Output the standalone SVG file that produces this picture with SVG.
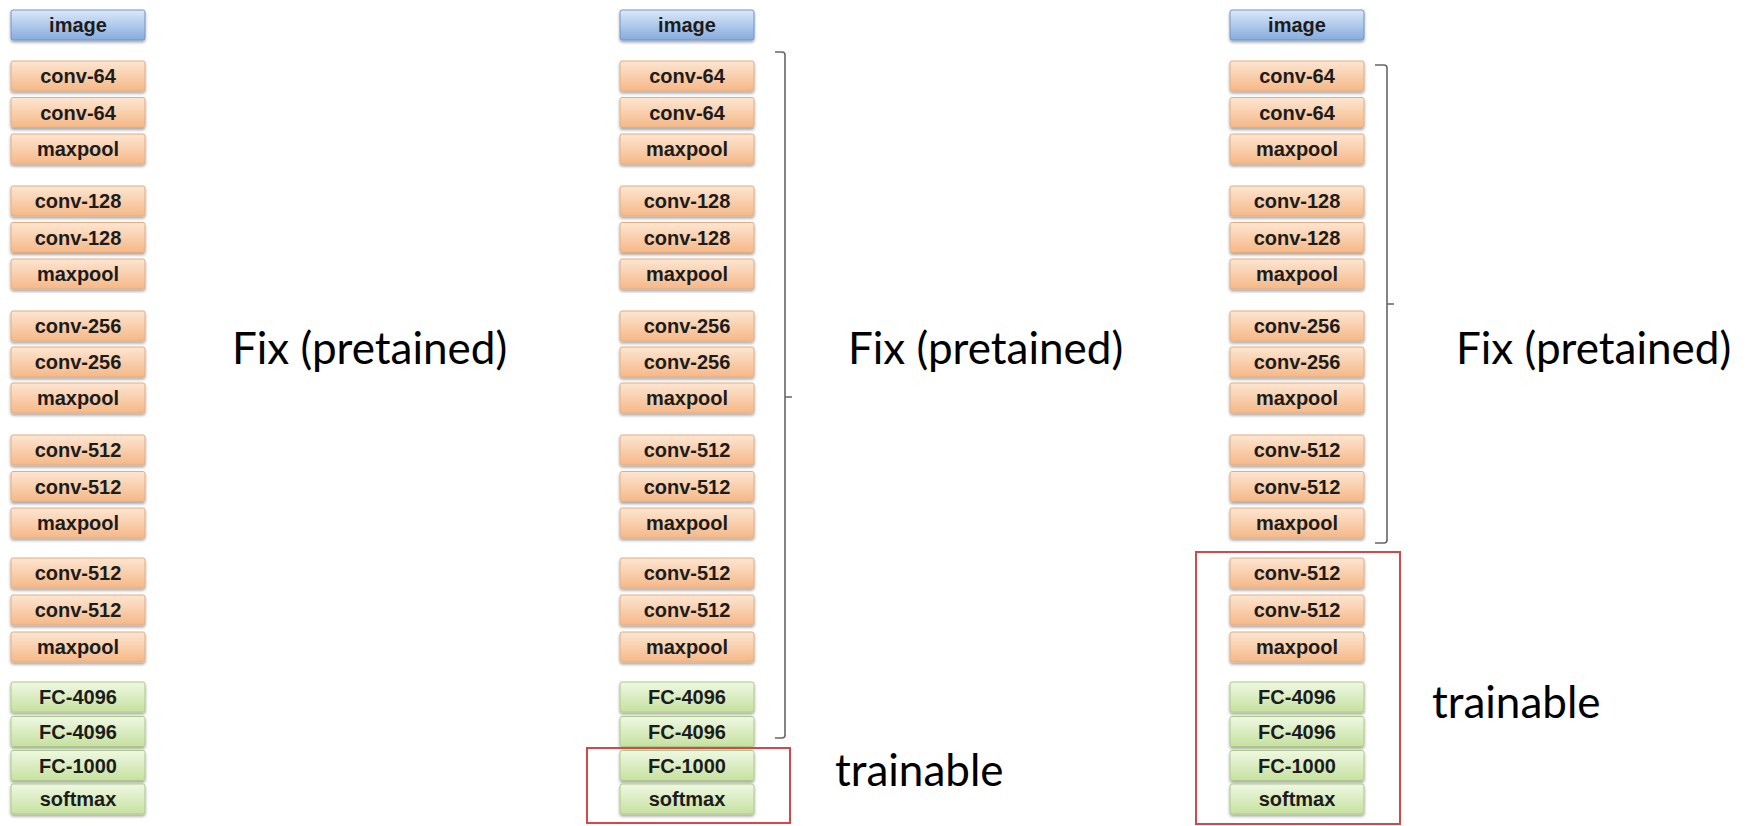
<svg xmlns="http://www.w3.org/2000/svg" width="1750" height="826" viewBox="0 0 1750 826">
  <defs>
    <linearGradient id="gBlue" x1="0" y1="0" x2="0" y2="1">
      <stop offset="0" stop-color="#dce8f8"/>
      <stop offset="1" stop-color="#86abdd"/>
    </linearGradient>
    <linearGradient id="gOrange" x1="0" y1="0" x2="0" y2="1">
      <stop offset="0" stop-color="#fde6d2"/>
      <stop offset="1" stop-color="#f5b887"/>
    </linearGradient>
    <linearGradient id="gGreen" x1="0" y1="0" x2="0" y2="1">
      <stop offset="0" stop-color="#eff8e3"/>
      <stop offset="1" stop-color="#c6e19f"/>
    </linearGradient>
    <filter id="shadow" x="-10%" y="-20%" width="120%" height="160%">
      <feGaussianBlur in="SourceAlpha" stdDeviation="1.5"/>
      <feOffset dx="0" dy="2" result="b"/>
      <feComponentTransfer><feFuncA type="linear" slope="0.35"/></feComponentTransfer>
      <feMerge><feMergeNode/><feMergeNode in="SourceGraphic"/></feMerge>
    </filter>
  </defs>
  <style>
    rect.b { fill: url(#gBlue); stroke: #7394c4; stroke-width: 1; filter: url(#shadow); }
    rect.o { fill: url(#gOrange); stroke: #e2ad83; stroke-width: 1; filter: url(#shadow); }
    rect.g { fill: url(#gGreen); stroke: #adc98a; stroke-width: 1; filter: url(#shadow); }
    .node text { font-family: "Liberation Sans", Arial, sans-serif; font-weight: bold; font-size: 20px; fill: #1c1c1c; text-anchor: middle; }
    .label { font-family: "Lato", "Liberation Sans", sans-serif; font-size: 44px; fill: #000; }
    .brace { fill: none; stroke: #666; stroke-width: 1.6; }
    .frame { fill: none; stroke: #d9464a; stroke-width: 2; }
  </style>

  <rect width="1750" height="826" fill="#ffffff"/>

  <!-- column 1: full network -->
  <g id="col1">
    <g id="c1-image" class="node" transform="translate(11,10)"><rect class="b" width="134" height="30" rx="2"/><text x="67" y="22">image</text></g>
    <g id="c1-conv64a" class="node" transform="translate(11,61)"><rect class="o" width="134" height="30" rx="2"/><text x="67" y="22">conv-64</text></g>
    <g id="c1-conv64b" class="node" transform="translate(11,97.5)"><rect class="o" width="134" height="30" rx="2"/><text x="67" y="22">conv-64</text></g>
    <g id="c1-pool1" class="node" transform="translate(11,134)"><rect class="o" width="134" height="30" rx="2"/><text x="67" y="22">maxpool</text></g>
    <g id="c1-conv128a" class="node" transform="translate(11,186)"><rect class="o" width="134" height="30" rx="2"/><text x="67" y="22">conv-128</text></g>
    <g id="c1-conv128b" class="node" transform="translate(11,222.5)"><rect class="o" width="134" height="30" rx="2"/><text x="67" y="22">conv-128</text></g>
    <g id="c1-pool2" class="node" transform="translate(11,259)"><rect class="o" width="134" height="30" rx="2"/><text x="67" y="22">maxpool</text></g>
    <g id="c1-conv256a" class="node" transform="translate(11,311)"><rect class="o" width="134" height="30" rx="2"/><text x="67" y="22">conv-256</text></g>
    <g id="c1-conv256b" class="node" transform="translate(11,347)"><rect class="o" width="134" height="30" rx="2"/><text x="67" y="22">conv-256</text></g>
    <g id="c1-pool3" class="node" transform="translate(11,383)"><rect class="o" width="134" height="30" rx="2"/><text x="67" y="22">maxpool</text></g>
    <g id="c1-conv512a" class="node" transform="translate(11,435)"><rect class="o" width="134" height="30" rx="2"/><text x="67" y="22">conv-512</text></g>
    <g id="c1-conv512b" class="node" transform="translate(11,471.5)"><rect class="o" width="134" height="30" rx="2"/><text x="67" y="22">conv-512</text></g>
    <g id="c1-pool4" class="node" transform="translate(11,508)"><rect class="o" width="134" height="30" rx="2"/><text x="67" y="22">maxpool</text></g>
    <g id="c1-conv512c" class="node" transform="translate(11,558)"><rect class="o" width="134" height="30" rx="2"/><text x="67" y="22">conv-512</text></g>
    <g id="c1-conv512d" class="node" transform="translate(11,595)"><rect class="o" width="134" height="30" rx="2"/><text x="67" y="22">conv-512</text></g>
    <g id="c1-pool5" class="node" transform="translate(11,632)"><rect class="o" width="134" height="30" rx="2"/><text x="67" y="22">maxpool</text></g>
    <g id="c1-fc1" class="node" transform="translate(11,682)"><rect class="g" width="134" height="30" rx="2"/><text x="67" y="22">FC-4096</text></g>
    <g id="c1-fc2" class="node" transform="translate(11,716.5)"><rect class="g" width="134" height="30" rx="2"/><text x="67" y="22">FC-4096</text></g>
    <g id="c1-fc3" class="node" transform="translate(11,750.5)"><rect class="g" width="134" height="30" rx="2"/><text x="67" y="22">FC-1000</text></g>
    <g id="c1-softmax" class="node" transform="translate(11,784)"><rect class="g" width="134" height="30" rx="2"/><text x="67" y="22">softmax</text></g>
  </g>

  <!-- column 2: only the classifier head is trained -->
  <g id="col2">
    <g id="c2-image" class="node" transform="translate(620,10)"><rect class="b" width="134" height="30" rx="2"/><text x="67" y="22">image</text></g>
    <g id="c2-conv64a" class="node" transform="translate(620,61)"><rect class="o" width="134" height="30" rx="2"/><text x="67" y="22">conv-64</text></g>
    <g id="c2-conv64b" class="node" transform="translate(620,97.5)"><rect class="o" width="134" height="30" rx="2"/><text x="67" y="22">conv-64</text></g>
    <g id="c2-pool1" class="node" transform="translate(620,134)"><rect class="o" width="134" height="30" rx="2"/><text x="67" y="22">maxpool</text></g>
    <g id="c2-conv128a" class="node" transform="translate(620,186)"><rect class="o" width="134" height="30" rx="2"/><text x="67" y="22">conv-128</text></g>
    <g id="c2-conv128b" class="node" transform="translate(620,222.5)"><rect class="o" width="134" height="30" rx="2"/><text x="67" y="22">conv-128</text></g>
    <g id="c2-pool2" class="node" transform="translate(620,259)"><rect class="o" width="134" height="30" rx="2"/><text x="67" y="22">maxpool</text></g>
    <g id="c2-conv256a" class="node" transform="translate(620,311)"><rect class="o" width="134" height="30" rx="2"/><text x="67" y="22">conv-256</text></g>
    <g id="c2-conv256b" class="node" transform="translate(620,347)"><rect class="o" width="134" height="30" rx="2"/><text x="67" y="22">conv-256</text></g>
    <g id="c2-pool3" class="node" transform="translate(620,383)"><rect class="o" width="134" height="30" rx="2"/><text x="67" y="22">maxpool</text></g>
    <g id="c2-conv512a" class="node" transform="translate(620,435)"><rect class="o" width="134" height="30" rx="2"/><text x="67" y="22">conv-512</text></g>
    <g id="c2-conv512b" class="node" transform="translate(620,471.5)"><rect class="o" width="134" height="30" rx="2"/><text x="67" y="22">conv-512</text></g>
    <g id="c2-pool4" class="node" transform="translate(620,508)"><rect class="o" width="134" height="30" rx="2"/><text x="67" y="22">maxpool</text></g>
    <g id="c2-conv512c" class="node" transform="translate(620,558)"><rect class="o" width="134" height="30" rx="2"/><text x="67" y="22">conv-512</text></g>
    <g id="c2-conv512d" class="node" transform="translate(620,595)"><rect class="o" width="134" height="30" rx="2"/><text x="67" y="22">conv-512</text></g>
    <g id="c2-pool5" class="node" transform="translate(620,632)"><rect class="o" width="134" height="30" rx="2"/><text x="67" y="22">maxpool</text></g>
    <g id="c2-fc1" class="node" transform="translate(620,682)"><rect class="g" width="134" height="30" rx="2"/><text x="67" y="22">FC-4096</text></g>
    <g id="c2-fc2" class="node" transform="translate(620,716.5)"><rect class="g" width="134" height="30" rx="2"/><text x="67" y="22">FC-4096</text></g>
    <g id="c2-fc3" class="node" transform="translate(620,750.5)"><rect class="g" width="134" height="30" rx="2"/><text x="67" y="22">FC-1000</text></g>
    <g id="c2-softmax" class="node" transform="translate(620,784)"><rect class="g" width="134" height="30" rx="2"/><text x="67" y="22">softmax</text></g>
  </g>

  <!-- column 3: last conv block and classifier are trained -->
  <g id="col3">
    <g id="c3-image" class="node" transform="translate(1230,10)"><rect class="b" width="134" height="30" rx="2"/><text x="67" y="22">image</text></g>
    <g id="c3-conv64a" class="node" transform="translate(1230,61)"><rect class="o" width="134" height="30" rx="2"/><text x="67" y="22">conv-64</text></g>
    <g id="c3-conv64b" class="node" transform="translate(1230,97.5)"><rect class="o" width="134" height="30" rx="2"/><text x="67" y="22">conv-64</text></g>
    <g id="c3-pool1" class="node" transform="translate(1230,134)"><rect class="o" width="134" height="30" rx="2"/><text x="67" y="22">maxpool</text></g>
    <g id="c3-conv128a" class="node" transform="translate(1230,186)"><rect class="o" width="134" height="30" rx="2"/><text x="67" y="22">conv-128</text></g>
    <g id="c3-conv128b" class="node" transform="translate(1230,222.5)"><rect class="o" width="134" height="30" rx="2"/><text x="67" y="22">conv-128</text></g>
    <g id="c3-pool2" class="node" transform="translate(1230,259)"><rect class="o" width="134" height="30" rx="2"/><text x="67" y="22">maxpool</text></g>
    <g id="c3-conv256a" class="node" transform="translate(1230,311)"><rect class="o" width="134" height="30" rx="2"/><text x="67" y="22">conv-256</text></g>
    <g id="c3-conv256b" class="node" transform="translate(1230,347)"><rect class="o" width="134" height="30" rx="2"/><text x="67" y="22">conv-256</text></g>
    <g id="c3-pool3" class="node" transform="translate(1230,383)"><rect class="o" width="134" height="30" rx="2"/><text x="67" y="22">maxpool</text></g>
    <g id="c3-conv512a" class="node" transform="translate(1230,435)"><rect class="o" width="134" height="30" rx="2"/><text x="67" y="22">conv-512</text></g>
    <g id="c3-conv512b" class="node" transform="translate(1230,471.5)"><rect class="o" width="134" height="30" rx="2"/><text x="67" y="22">conv-512</text></g>
    <g id="c3-pool4" class="node" transform="translate(1230,508)"><rect class="o" width="134" height="30" rx="2"/><text x="67" y="22">maxpool</text></g>
    <g id="c3-conv512c" class="node" transform="translate(1230,558)"><rect class="o" width="134" height="30" rx="2"/><text x="67" y="22">conv-512</text></g>
    <g id="c3-conv512d" class="node" transform="translate(1230,595)"><rect class="o" width="134" height="30" rx="2"/><text x="67" y="22">conv-512</text></g>
    <g id="c3-pool5" class="node" transform="translate(1230,632)"><rect class="o" width="134" height="30" rx="2"/><text x="67" y="22">maxpool</text></g>
    <g id="c3-fc1" class="node" transform="translate(1230,682)"><rect class="g" width="134" height="30" rx="2"/><text x="67" y="22">FC-4096</text></g>
    <g id="c3-fc2" class="node" transform="translate(1230,716.5)"><rect class="g" width="134" height="30" rx="2"/><text x="67" y="22">FC-4096</text></g>
    <g id="c3-fc3" class="node" transform="translate(1230,750.5)"><rect class="g" width="134" height="30" rx="2"/><text x="67" y="22">FC-1000</text></g>
    <g id="c3-softmax" class="node" transform="translate(1230,784)"><rect class="g" width="134" height="30" rx="2"/><text x="67" y="22">softmax</text></g>
  </g>

  <!-- brackets over the frozen layers and frames round the trained ones -->
  <g id="connectors">
    <path class="brace" d="M775,52 L782,52 Q785,52 785,55 L785,397 L792,397 M785,397 L785,735 Q785,738 782,738 L775,738"/>
    <path class="brace" d="M1375,65 L1384,65 Q1387,65 1387,68 L1387,304 L1394,304 M1387,304 L1387,540 Q1387,543 1384,543 L1375,543"/>
    <rect class="frame" x="587" y="748" width="203" height="75"/>
    <rect class="frame" x="1196" y="552" width="204" height="272"/>
  </g>

  <!-- annotations -->
  <g id="labels">
    <text class="label" x="232" y="364">Fix (pretained)</text>
    <text class="label" x="848" y="364">Fix (pretained)</text>
    <text class="label" x="1456" y="364">Fix (pretained)</text>
    <text class="label" x="835" y="786">trainable</text>
    <text class="label" x="1432" y="718">trainable</text>
  </g>
</svg>
